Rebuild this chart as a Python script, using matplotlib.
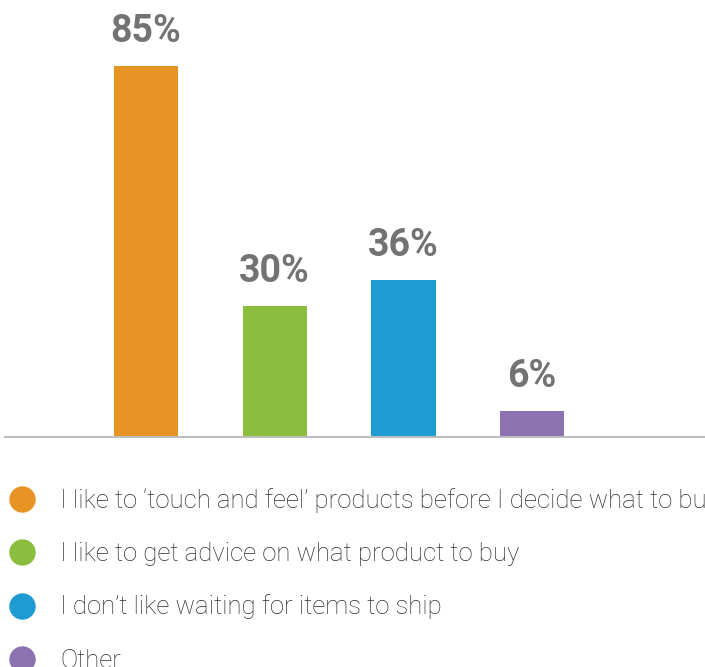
import matplotlib
matplotlib.use('Agg')
import matplotlib.pyplot as plt
from matplotlib.lines import Line2D

# chart data
reasons = ["I like to \u2018touch and feel\u2019 products before I decide what to buy",
           "I like to get advice on what product to buy",
           "I don\u2019t like waiting for items to ship",
           "Other"]
values = [85, 30, 36, 6]
colors = ['#E89424', '#8BBE3E', '#1F9BD3', '#8C72B0']

plt.rcParams['font.family'] = ['Roboto', 'DejaVu Sans']

fig = plt.figure(figsize=(7.05, 6.67), dpi=100)
ax = fig.add_axes([5 / 705, 1 - 437 / 667, 700 / 705, 437 / 667])

x = range(len(values))
bars = ax.bar(x, values, width=0.5, color=colors)

# percentage labels above bars
for xi, v in zip(x, values):
    ax.annotate(f'{v}%', (xi, v), xytext=(0, 17), textcoords='offset points',
                ha='center', va='baseline', fontsize=27, fontweight='bold',
                color='#737373')

ax.set_xlim(-1.096, 4.344)
ax.set_ylim(0, 100)
for side in ['top', 'right', 'left']:
    ax.spines[side].set_visible(False)
ax.spines['bottom'].set_color('#BDBDBD')
ax.spines['bottom'].set_linewidth(1.5)
ax.set_xticks([])
ax.set_yticks([])
ax.patch.set_alpha(0)

# legend below chart (runs off the right edge like the original)
handles = [Line2D([], [], linestyle='none', marker='o', markersize=19,
                  markerfacecolor=c, markeredgecolor='none') for c in colors]
fig.legend(handles, reasons, loc='upper left', bbox_to_anchor=(0.0, 1 - 478.5 / 667),
           frameon=False, prop={'family': 'Roboto', 'weight': 'light', 'size': 18.5},
           labelcolor='#2E2E2E', handlelength=1.0, handletextpad=0.98,
           labelspacing=1.13, borderaxespad=0, borderpad=0.356)

fig.savefig('out.png', dpi=100)
